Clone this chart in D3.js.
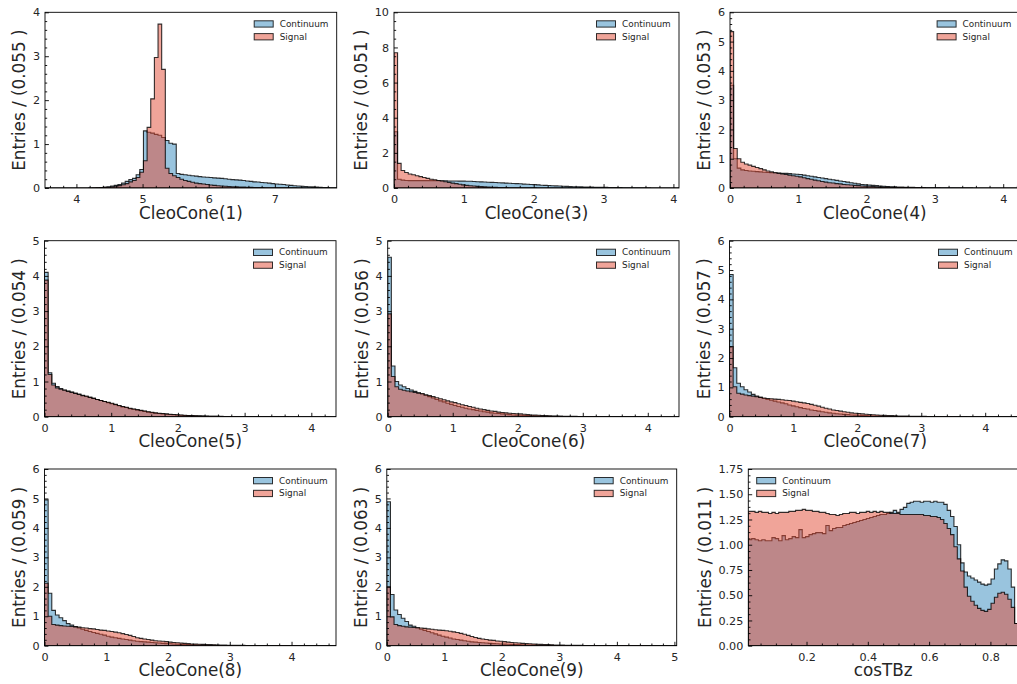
<!DOCTYPE html>
<html>
<head>
<meta charset="utf-8">
<script src="https://cdn.jsdelivr.net/npm/d3@7"></script>
<style>
  html, body { margin: 0; padding: 0; background: #fff; }
  svg { display: block; font-family: "DejaVu Sans", sans-serif; }
</style>
</head>
<body>
<svg id="fig" width="1017" height="684"></svg>
<script>
// ---- Histogram contents (density per bin, 80 bins each) ----
const cleo1Continuum = [0,0,0,0,0,0,0,0,0,0,
  0,0,0.003,0.005,0.008,0.012,0.02,0.03,0.045,0.06,
  0.08,0.11,0.15,0.19,0.22,0.3,0.42,1.3,1.27,1.25,
  1.22,1.2,1.15,1.08,1.02,1.0,0.33,0.31,0.3,0.29,
  0.28,0.27,0.26,0.25,0.245,0.24,0.23,0.225,0.22,0.21,
  0.2,0.19,0.185,0.18,0.17,0.16,0.15,0.14,0.135,0.125,
  0.12,0.11,0.1,0.09,0.085,0.08,0.07,0.06,0.05,0.045,
  0.04,0.035,0.03,0.025,0.02,0.015,0.012,0.009,0.006,0.004];
const cleo1Signal = [0,0,0,0,0,0,0,0,0,0,
  0,0,0,0.003,0.005,0.008,0.012,0.018,0.027,0.04,
  0.055,0.075,0.1,0.14,0.17,0.24,0.36,0.62,1.38,2.03,
  2.97,3.73,2.7,0.45,0.33,0.28,0.24,0.2,0.17,0.15,
  0.13,0.11,0.1,0.09,0.08,0.07,0.06,0.05,0.045,0.04,
  0.035,0.03,0.026,0.022,0.019,0.016,0.014,0.012,0.01,0.008,
  0.007,0.006,0.005,0.004,0.003,0.003,0.002,0.002,0.002,0.001,
  0.001,0.001,0.001,0.001,0,0,0,0,0,0];

const cleo3Continuum = [3.2,0.5,0.45,0.43,0.42,0.42,0.42,0.42,0.42,0.42,
  0.42,0.42,0.41,0.41,0.41,0.4,0.4,0.4,0.39,0.39,
  0.38,0.38,0.37,0.36,0.35,0.34,0.33,0.32,0.31,0.3,
  0.29,0.28,0.27,0.26,0.25,0.24,0.22,0.21,0.2,0.19,
  0.18,0.16,0.15,0.14,0.13,0.12,0.11,0.1,0.09,0.08,
  0.075,0.07,0.065,0.06,0.055,0.05,0.045,0.04,0.037,0.034,
  0.03,0.026,0.022,0.019,0.016,0.013,0.011,0.009,0.008,0.007,
  0.006,0.005,0.004,0.004,0.003,0.003,0.002,0.002,0.002,0.001];
const cleo3Signal = [7.7,1.4,1.0,0.88,0.8,0.75,0.7,0.65,0.6,0.55,
  0.5,0.47,0.43,0.4,0.36,0.32,0.28,0.25,0.21,0.18,
  0.15,0.13,0.11,0.09,0.08,0.065,0.055,0.045,0.038,0.032,
  0.027,0.022,0.018,0.015,0.012,0.01,0.008,0.007,0.006,0.005,
  0.004,0.004,0.003,0.003,0.002,0.002,0.002,0.002,0.001,0.001,
  0.001,0.001,0.001,0.001,0.001,0,0,0,0,0,
  0,0,0,0,0,0,0,0,0,0,
  0,0,0,0,0,0,0,0,0,0];

const cleo4Continuum = [3.51,1.0,0.68,0.62,0.6,0.58,0.57,0.56,0.55,0.54,
  0.53,0.52,0.52,0.51,0.5,0.5,0.49,0.48,0.47,0.46,
  0.44,0.42,0.4,0.38,0.36,0.34,0.32,0.3,0.28,0.26,
  0.24,0.22,0.2,0.18,0.16,0.14,0.12,0.11,0.1,0.09,
  0.08,0.07,0.06,0.05,0.045,0.04,0.035,0.03,0.026,0.023,
  0.02,0.018,0.015,0.013,0.011,0.01,0.009,0.008,0.007,0.006,
  0.005,0.005,0.004,0.004,0.003,0.003,0.003,0.002,0.002,0.002,
  0.002,0.001,0.001,0.001,0.001,0.001,0.001,0.001,0.001,0.001];
const cleo4Signal = [5.34,1.35,1.0,0.88,0.82,0.78,0.74,0.7,0.66,0.62,
  0.58,0.55,0.52,0.5,0.48,0.46,0.44,0.42,0.4,0.38,
  0.35,0.32,0.3,0.27,0.25,0.22,0.2,0.18,0.17,0.15,
  0.14,0.12,0.11,0.1,0.09,0.08,0.07,0.065,0.06,0.05,
  0.045,0.04,0.035,0.03,0.025,0.02,0.018,0.015,0.012,0.01,
  0.008,0.007,0.006,0.005,0.004,0.004,0.003,0.003,0.002,0.002,
  0.002,0.001,0.001,0.001,0.001,0.001,0,0,0,0,
  0,0,0,0,0,0,0,0,0,0];

const cleo5Continuum = [4.1,1.25,0.95,0.86,0.8,0.76,0.73,0.7,0.67,0.64,
  0.61,0.58,0.55,0.52,0.49,0.46,0.43,0.4,0.37,0.34,
  0.31,0.28,0.26,0.23,0.21,0.19,0.17,0.15,0.13,0.115,
  0.1,0.09,0.08,0.07,0.062,0.055,0.048,0.042,0.036,0.031,
  0.027,0.023,0.02,0.017,0.014,0.012,0.01,0.008,0.007,0.006,
  0.005,0.004,0.004,0.003,0.003,0.002,0.002,0.002,0.001,0.001,
  0.001,0.001,0.001,0.001,0.001,0.001,0,0,0,0,
  0,0,0,0,0,0,0,0,0,0];
const cleo5Signal = [3.88,1.2,0.9,0.82,0.78,0.75,0.72,0.69,0.66,0.63,
  0.6,0.58,0.55,0.52,0.49,0.46,0.43,0.41,0.38,0.35,
  0.32,0.29,0.27,0.24,0.22,0.2,0.18,0.16,0.14,0.125,
  0.11,0.1,0.09,0.08,0.07,0.062,0.055,0.048,0.042,0.036,
  0.031,0.027,0.023,0.02,0.017,0.014,0.012,0.01,0.008,0.007,
  0.006,0.005,0.004,0.004,0.003,0.003,0.002,0.002,0.002,0.001,
  0.001,0.001,0.001,0.001,0.001,0.001,0.001,0,0,0,
  0,0,0,0,0,0,0,0,0,0];

const cleo6Continuum = [4.53,1.44,1.0,0.9,0.85,0.8,0.76,0.72,0.68,0.65,
  0.61,0.57,0.53,0.49,0.45,0.42,0.38,0.35,0.32,0.29,
  0.27,0.24,0.22,0.2,0.18,0.16,0.14,0.13,0.11,0.1,
  0.09,0.08,0.07,0.06,0.05,0.045,0.04,0.035,0.03,0.025,
  0.02,0.018,0.015,0.012,0.01,0.009,0.008,0.007,0.006,0.005,
  0.004,0.004,0.003,0.003,0.003,0.002,0.002,0.002,0.001,0.001,
  0.001,0.001,0.001,0.001,0.001,0.001,0.001,0.001,0,0,
  0,0,0,0,0,0,0,0,0,0];
const cleo6Signal = [2.92,1.14,0.85,0.78,0.75,0.73,0.71,0.69,0.67,0.65,
  0.62,0.6,0.57,0.54,0.51,0.48,0.45,0.42,0.4,0.37,
  0.34,0.32,0.29,0.27,0.24,0.22,0.2,0.18,0.16,0.15,
  0.13,0.12,0.11,0.1,0.09,0.085,0.08,0.07,0.06,0.05,
  0.045,0.04,0.035,0.03,0.025,0.02,0.017,0.015,0.012,0.01,
  0.009,0.008,0.007,0.006,0.005,0.004,0.004,0.003,0.003,0.002,
  0.002,0.002,0.002,0.001,0.001,0.001,0.001,0.001,0.001,0.001,
  0,0,0,0,0,0,0,0,0,0];

const cleo7Continuum = [4.85,1.67,1.14,1.02,0.92,0.84,0.76,0.7,0.66,0.62,
  0.59,0.56,0.53,0.5,0.47,0.44,0.4,0.37,0.34,0.31,
  0.28,0.26,0.23,0.21,0.19,0.17,0.15,0.13,0.12,0.1,
  0.09,0.08,0.07,0.06,0.055,0.05,0.04,0.035,0.03,0.025,
  0.02,0.018,0.015,0.013,0.011,0.01,0.008,0.007,0.006,0.005,
  0.004,0.004,0.003,0.003,0.002,0.002,0.002,0.001,0.001,0.001,
  0.001,0.001,0.001,0.001,0.001,0,0,0,0,0,
  0,0,0,0,0,0,0,0,0,0];
const cleo7Signal = [2.39,1.02,0.8,0.77,0.74,0.72,0.7,0.68,0.66,0.64,
  0.62,0.61,0.6,0.59,0.58,0.56,0.55,0.53,0.51,0.49,
  0.47,0.45,0.42,0.39,0.36,0.32,0.29,0.26,0.23,0.21,
  0.19,0.17,0.15,0.13,0.12,0.11,0.095,0.085,0.075,0.065,
  0.058,0.05,0.045,0.04,0.035,0.03,0.025,0.022,0.02,0.017,
  0.015,0.013,0.011,0.01,0.008,0.007,0.006,0.005,0.004,0.004,
  0.004,0.004,0.004,0.002,0.002,0.002,0.002,0.002,0.002,0.002,
  0.002,0.001,0.001,0.001,0.001,0.001,0.001,0.001,0.001,0.001];

const cleo8Continuum = [4.95,1.78,1.2,1.04,0.95,0.85,0.75,0.7,0.65,0.6,
  0.56,0.52,0.48,0.45,0.42,0.39,0.36,0.32,0.29,0.27,
  0.25,0.23,0.21,0.19,0.17,0.15,0.14,0.13,0.12,0.11,
  0.1,0.09,0.08,0.07,0.065,0.06,0.05,0.045,0.04,0.035,
  0.03,0.025,0.02,0.018,0.015,0.013,0.011,0.01,0.009,0.008,
  0.007,0.006,0.005,0.005,0.005,0.005,0.005,0.003,0.003,0.003,
  0.003,0.003,0.003,0.001,0.001,0.001,0.001,0.001,0.001,0.001,
  0.001,0.001,0.001,0.001,0.001,0.001,0.001,0.001,0.001,0.001];
const cleo8Signal = [2.12,1.0,0.72,0.7,0.68,0.67,0.66,0.65,0.64,0.63,
  0.61,0.6,0.58,0.57,0.55,0.53,0.52,0.5,0.48,0.46,
  0.44,0.41,0.38,0.35,0.31,0.27,0.25,0.23,0.21,0.19,
  0.17,0.16,0.15,0.14,0.12,0.11,0.1,0.09,0.08,0.07,
  0.06,0.055,0.05,0.045,0.04,0.035,0.03,0.026,0.022,0.019,
  0.017,0.015,0.013,0.011,0.01,0.009,0.008,0.005,0.005,0.005,
  0.005,0.005,0.005,0.003,0.003,0.003,0.003,0.003,0.003,0.003,
  0.003,0.001,0.001,0.001,0.001,0.001,0.001,0.001,0.001,0.001];

const cleo9Continuum = [4.89,1.74,1.21,1.06,0.93,0.82,0.7,0.66,0.61,0.56,
  0.52,0.48,0.44,0.4,0.36,0.32,0.29,0.26,0.23,0.21,
  0.19,0.17,0.15,0.13,0.12,0.11,0.1,0.09,0.08,0.07,
  0.065,0.06,0.055,0.05,0.045,0.04,0.035,0.03,0.025,0.022,
  0.02,0.017,0.015,0.013,0.011,0.01,0.009,0.008,0.007,0.005,
  0.005,0.005,0.005,0.005,0.005,0.005,0.003,0.003,0.003,0.003,
  0.003,0.003,0.003,0.001,0.001,0.001,0.001,0.001,0.001,0.001,
  0.001,0.001,0.001,0.001,0.001,0.001,0.001,0.001,0.001,0.001];
const cleo9Signal = [2.0,0.98,0.72,0.68,0.66,0.64,0.63,0.62,0.61,0.6,
  0.59,0.57,0.56,0.54,0.53,0.52,0.51,0.49,0.47,0.45,
  0.42,0.39,0.35,0.31,0.28,0.25,0.23,0.21,0.19,0.18,
  0.16,0.15,0.14,0.12,0.11,0.1,0.09,0.08,0.07,0.065,
  0.06,0.05,0.045,0.04,0.035,0.03,0.025,0.022,0.02,0.017,
  0.015,0.013,0.011,0.01,0.009,0.008,0.005,0.005,0.005,0.005,
  0.005,0.005,0.005,0.003,0.003,0.003,0.003,0.003,0.003,0.003,
  0.003,0.001,0.001,0.001,0.001,0.001,0.001,0.001,0.001,0.001];

const cosTBzContinuum = [1.05,1.06,1.05,1.04,1.05,1.04,1.04,1.07,1.06,1.04,
  1.09,1.05,1.06,1.08,1.07,1.15,1.07,1.08,1.10,1.11,
  1.12,1.12,1.11,1.19,1.14,1.16,1.17,1.17,1.19,1.20,
  1.21,1.22,1.23,1.24,1.25,1.26,1.27,1.28,1.29,1.30,
  1.30,1.31,1.32,1.34,1.32,1.35,1.37,1.41,1.42,1.43,
  1.43,1.42,1.43,1.43,1.42,1.43,1.42,1.42,1.40,1.34,
  1.28,1.18,1.00,0.82,0.73,0.69,0.67,0.65,0.63,0.61,
  0.60,0.61,0.66,0.76,0.81,0.85,0.84,0.76,0.58,0.22];
const cosTBzSignal = [1.33,1.33,1.32,1.33,1.32,1.32,1.31,1.32,1.31,1.32,
  1.32,1.32,1.33,1.33,1.34,1.34,1.35,1.34,1.34,1.33,
  1.33,1.32,1.32,1.31,1.30,1.30,1.29,1.30,1.31,1.31,
  1.32,1.32,1.31,1.32,1.32,1.33,1.32,1.33,1.32,1.33,
  1.32,1.32,1.31,1.31,1.31,1.30,1.30,1.30,1.30,1.30,
  1.30,1.30,1.29,1.29,1.28,1.28,1.27,1.25,1.21,1.16,
  1.10,0.98,0.86,0.74,0.58,0.49,0.44,0.40,0.37,0.35,
  0.34,0.36,0.42,0.48,0.52,0.53,0.51,0.46,0.38,0.22];

// ---- Axis labels and ticks ----
const xLabels = ["CleoCone(1)", "CleoCone(3)", "CleoCone(4)", "CleoCone(5)", "CleoCone(6)",
                 "CleoCone(7)", "CleoCone(8)", "CleoCone(9)", "cosTBz"];
const binWidthLabels = ["0.055", "0.051", "0.053", "0.054", "0.056", "0.057", "0.059", "0.063", "0.011"];
const xRanges = [[3.525, 7.935], [0, 4.08], [0, 4.24], [0, 4.37], [0, 4.48], [0, 4.56], [0, 4.72], [0, 5.04], [0.01, 0.89]];
const yMaxima = [4, 10, 6, 5, 5, 6, 6, 6, 1.75];
const xMajorSteps = [1, 1, 1, 1, 1, 1, 1, 1, 0.2];
const yMajorSteps = [1, 2, 1, 1, 1, 1, 1, 1, 0.25];
const seriesNames = ["Continuum", "Signal"];
const continuumSets = [cleo1Continuum, cleo3Continuum, cleo4Continuum, cleo5Continuum, cleo6Continuum,
                       cleo7Continuum, cleo8Continuum, cleo9Continuum, cosTBzContinuum];
const signalSets = [cleo1Signal, cleo3Signal, cleo4Signal, cleo5Signal, cleo6Signal,
                    cleo7Signal, cleo8Signal, cleo9Signal, cosTBzSignal];

// ---- Layout: plot boxes [left, right, top, bottom] in pixels ----
const boxes = [
  [45, 336.7, 12.3, 188], [394, 679, 12.3, 188], [730, 1019.6, 12.3, 188],
  [44.5, 336, 240.7, 416.7], [387.7, 679, 240.7, 416.7], [729.5, 1021, 240.7, 416.7],
  [44.5, 336, 469, 645.7], [386.8, 676.7, 469, 645.7], [748.3, 1018, 469, 645.7]
];

const COLORS = ["#348ABD", "#E24A33"];
const TEXT = "#262626";
const svg = d3.select("#fig");

function stepsBetween(lo, hi, step) {
  const out = [];
  const start = Math.ceil(lo / step - 1e-9);
  for (let i = start; i * step <= hi + 1e-9; i++) out.push(+(i * step).toFixed(6));
  return out;
}
function minorStep(major) {
  const m = major / Math.pow(10, Math.floor(Math.log10(major)));
  const nd = (Math.abs(m - 1) < 1e-9 || Math.abs(m - 5) < 1e-9 || Math.abs(m - 10) < 1e-9) ? 5 : 4;
  return major / nd;
}

xLabels.forEach((xl, k) => {
  const [L, R, T, B] = boxes[k];
  const dom = xRanges[k];
  const x = d3.scaleLinear().domain(dom).range([L, R]);
  const y = d3.scaleLinear().domain([0, yMaxima[k]]).range([B, T]);
  const g = svg.append("g");

  const clipId = "clip" + k;
  g.append("clipPath").attr("id", clipId)
    .append("rect").attr("x", L).attr("y", T).attr("width", R - L).attr("height", B - T);

  // step-filled histograms
  const area = d3.area()
    .x(d => x(d[0])).y0(y(0)).y1(d => y(d[1]))
    .curve(d3.curveStepAfter);
  const hist = g.append("g").attr("clip-path", `url(#${clipId})`);
  [continuumSets[k], signalSets[k]].forEach((vals, s) => {
    const n = vals.length;
    const bw = (dom[1] - dom[0]) / n;
    const pts = vals.map((v, i) => [dom[0] + i * bw, v]);
    pts.push([dom[1], vals[n - 1]]);
    hist.append("path")
      .attr("d", area(pts))
      .attr("fill", COLORS[s]).attr("fill-opacity", 0.5)
      .attr("stroke", "#000").attr("stroke-opacity", 0.8)
      .attr("stroke-width", 1.1).attr("stroke-linejoin", "miter");
  });

  // ticks
  const xMaj = stepsBetween(dom[0], dom[1], xMajorSteps[k]);
  const xMin = stepsBetween(dom[0], dom[1], minorStep(xMajorSteps[k]))
    .filter(v => !xMaj.some(m => Math.abs(m - v) < 1e-6));
  const yMaj = stepsBetween(0, yMaxima[k], yMajorSteps[k]);
  const yMin = stepsBetween(0, yMaxima[k], minorStep(yMajorSteps[k]))
    .filter(v => !yMaj.some(m => Math.abs(m - v) < 1e-6));

  const xFmt = xMajorSteps[k] < 1 ? d3.format(".1f") : d3.format("d");
  const yFmt = yMajorSteps[k] < 1 ? d3.format(".2f") : d3.format("d");

  const styleAxis = sel => {
    sel.attr("font-family", "DejaVu Sans, sans-serif").attr("font-size", 11.2);
    sel.select(".domain").remove();
    sel.selectAll("line").attr("stroke", "#000").attr("stroke-width", 0.9);
    sel.selectAll("text").attr("fill", TEXT);
  };

  g.append("g").attr("transform", `translate(0,${B})`)
    .call(d3.axisBottom(x).tickValues(xMin).tickSize(-2.2).tickFormat(""))
    .call(styleAxis);
  g.append("g").attr("transform", `translate(0,${B})`)
    .call(d3.axisBottom(x).tickValues(xMaj).tickSize(-3.9).tickPadding(7).tickFormat(xFmt))
    .call(styleAxis);
  g.append("g").attr("transform", `translate(${L},0)`)
    .call(d3.axisLeft(y).tickValues(yMin).tickSize(-2.2).tickFormat(""))
    .call(styleAxis);
  const yAxisG = g.append("g").attr("transform", `translate(${L},0)`)
    .call(d3.axisLeft(y).tickValues(yMaj).tickSize(-3.9).tickPadding(5).tickFormat(yFmt))
    .call(styleAxis);

  // spines
  g.append("rect").attr("x", L).attr("y", T).attr("width", R - L).attr("height", B - T)
    .attr("fill", "none").attr("stroke", "#000").attr("stroke-width", 0.9);

  // axis labels
  g.append("text")
    .attr("x", (L + Math.min(R, 1017 + (R - 1017))) / 2).attr("y", B + 30.5)
    .attr("text-anchor", "middle").attr("font-size", 16.8).attr("fill", TEXT)
    .text(xl);

  let maxW = 0;
  yAxisG.selectAll("text").each(function () { maxW = Math.max(maxW, this.getComputedTextLength()); });
  const ylx = L - maxW - 12.4;
  g.append("text")
    .attr("transform", `translate(${ylx},${(T + B) / 2}) rotate(-90)`)
    .attr("text-anchor", "middle").attr("font-size", 16.8).attr("fill", TEXT)
    .text(`Entries / (${binWidthLabels[k]} )`);

  // legend
  const leftLegend = k === 8;
  const lx = leftLegend ? L + 8.4 : R - 82.5;
  const ly = T + 8.5;
  seriesNames.forEach((name, s) => {
    const yy = ly + s * 12.8;
    g.append("rect").attr("x", lx).attr("y", yy).attr("width", 19).attr("height", 6.3)
      .attr("fill", COLORS[s]).attr("fill-opacity", 0.5)
      .attr("stroke", "#000").attr("stroke-opacity", 0.8).attr("stroke-width", 1);
    g.append("text").attr("x", lx + 25.5).attr("y", yy + 3.15)
      .attr("dominant-baseline", "central")
      .attr("font-size", 8.9).attr("fill", TEXT).text(name);
  });
});
</script>
</body>
</html>
